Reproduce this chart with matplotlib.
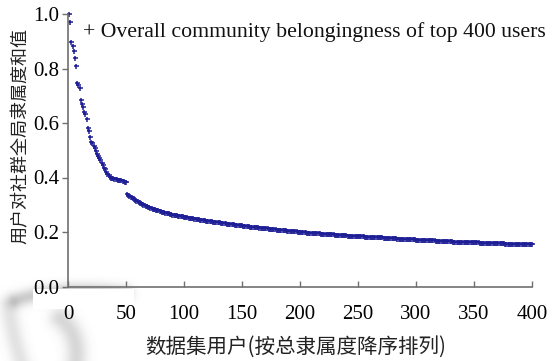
import numpy as np
import matplotlib
matplotlib.use("Agg")
import matplotlib.pyplot as plt

# Overall community belongingness of the top 400 users, sorted descending
ranks = list(range(1, 401))
belong_top50 = [
    1.000, 0.970, 0.897, 0.884, 0.866, 0.840, 0.810, 0.745, 0.738, 0.727,
    0.684, 0.670, 0.657, 0.640, 0.632, 0.614, 0.583, 0.570, 0.548, 0.530,
    0.525, 0.515, 0.508, 0.496, 0.488, 0.480, 0.472, 0.465, 0.455, 0.446,
    0.436, 0.430, 0.422, 0.414, 0.408, 0.403, 0.400, 0.399, 0.397, 0.396,
    0.395, 0.394, 0.392, 0.391, 0.390, 0.389, 0.387, 0.386, 0.384, 0.382,
]
belong_rest = [
    0.340, 0.336, 0.333, 0.330, 0.327, 0.325, 0.322, 0.318, 0.315, 0.312,
    0.310, 0.307, 0.305, 0.302, 0.300, 0.298, 0.296, 0.294, 0.292, 0.290,
    0.289, 0.287, 0.286, 0.284, 0.283, 0.282, 0.280, 0.279, 0.278, 0.277,
    0.275, 0.274, 0.273, 0.271, 0.270, 0.269, 0.268, 0.266, 0.265, 0.264,
    0.263, 0.263, 0.262, 0.261, 0.260, 0.259, 0.258, 0.257, 0.257, 0.256,
    0.255, 0.254, 0.254, 0.253, 0.252, 0.251, 0.251, 0.250, 0.249, 0.248,
    0.248, 0.247, 0.246, 0.245, 0.245, 0.244, 0.244, 0.243, 0.242, 0.242,
    0.241, 0.240, 0.240, 0.239, 0.238, 0.238, 0.237, 0.237, 0.236, 0.235,
    0.235, 0.234, 0.233, 0.233, 0.232, 0.232, 0.231, 0.231, 0.230, 0.229,
    0.229, 0.228, 0.228, 0.227, 0.227, 0.226, 0.226, 0.225, 0.224, 0.224,
    0.223, 0.223, 0.222, 0.222, 0.221, 0.221, 0.220, 0.220, 0.219, 0.219,
    0.218, 0.218, 0.217, 0.217, 0.216, 0.216, 0.215, 0.215, 0.214, 0.214,
    0.213, 0.213, 0.212, 0.212, 0.211, 0.211, 0.210, 0.210, 0.210, 0.209,
    0.209, 0.208, 0.208, 0.207, 0.207, 0.206, 0.206, 0.206, 0.205, 0.205,
    0.204, 0.204, 0.203, 0.203, 0.203, 0.202, 0.202, 0.201, 0.201, 0.201,
    0.200, 0.200, 0.199, 0.199, 0.199, 0.198, 0.198, 0.198, 0.197, 0.197,
    0.197, 0.196, 0.196, 0.196, 0.195, 0.195, 0.195, 0.194, 0.194, 0.194,
    0.193, 0.193, 0.193, 0.192, 0.192, 0.192, 0.191, 0.191, 0.191, 0.190,
    0.190, 0.190, 0.190, 0.189, 0.189, 0.189, 0.188, 0.188, 0.188, 0.188,
    0.187, 0.187, 0.187, 0.186, 0.186, 0.186, 0.186, 0.185, 0.185, 0.185,
    0.185, 0.184, 0.184, 0.184, 0.184, 0.183, 0.183, 0.183, 0.183, 0.182,
    0.182, 0.182, 0.182, 0.181, 0.181, 0.181, 0.181, 0.180, 0.180, 0.180,
    0.180, 0.179, 0.179, 0.179, 0.179, 0.178, 0.178, 0.178, 0.178, 0.177,
    0.177, 0.177, 0.177, 0.176, 0.176, 0.176, 0.176, 0.175, 0.175, 0.175,
    0.175, 0.174, 0.174, 0.174, 0.174, 0.173, 0.173, 0.173, 0.173, 0.172,
    0.172, 0.172, 0.172, 0.171, 0.171, 0.171, 0.171, 0.170, 0.170, 0.170,
    0.170, 0.170, 0.169, 0.169, 0.169, 0.169, 0.168, 0.168, 0.168, 0.168,
    0.168, 0.167, 0.167, 0.167, 0.167, 0.167, 0.166, 0.166, 0.166, 0.166,
    0.166, 0.165, 0.165, 0.165, 0.165, 0.165, 0.164, 0.164, 0.164, 0.164,
    0.164, 0.164, 0.164, 0.163, 0.163, 0.163, 0.163, 0.163, 0.162, 0.162,
    0.162, 0.162, 0.162, 0.162, 0.161, 0.161, 0.161, 0.161, 0.161, 0.160,
    0.160, 0.160, 0.160, 0.160, 0.159, 0.159, 0.159, 0.159, 0.159, 0.159,
    0.158, 0.158, 0.158, 0.158, 0.158, 0.158, 0.157, 0.157, 0.157, 0.157,
    0.157, 0.157, 0.157, 0.157, 0.156, 0.156, 0.156, 0.156, 0.156, 0.156,
    0.156, 0.156, 0.156, 0.156, 0.155, 0.155, 0.155, 0.155, 0.155, 0.155,
]
belongingness = belong_top50 + belong_rest

x_ticks = [0, 50, 100, 150, 200, 250, 300, 350, 400]
y_ticks = [0.0, 0.2, 0.4, 0.6, 0.8, 1.0]
y_tick_labels = ["0.0", "0.2", "0.4", "0.6", "0.8", "1.0"]

series_label = "Overall community belongingness of top 400 users"
x_title = "数据集用户(按总隶属度降序排列)"
y_title = "用户对社群全局隶属度和值"

serif = ["Liberation Serif", "DejaVu Serif"]
cjk = ["Noto Sans CJK SC", "DejaVu Sans"]

W, H = 554, 361
fig = plt.figure(figsize=(W / 100, H / 100), dpi=100)
fig.patch.set_facecolor("white")


# soft grey brush-stroke watermark in the lower-left background
def soft_stroke(xx, yy, p0, p1, p2, width, strength):
    t = np.linspace(0, 1, 80)[:, None, None]
    cx = (1 - t) ** 2 * p0[0] + 2 * (1 - t) * t * p1[0] + t ** 2 * p2[0]
    cy = (1 - t) ** 2 * p0[1] + 2 * (1 - t) * t * p1[1] + t ** 2 * p2[1]
    d2 = ((xx[None] - cx) ** 2 + (yy[None] - cy) ** 2).min(axis=0)
    return strength * np.exp(-d2 / (2 * width ** 2))


yy, xx = np.mgrid[0:H, 0:W].astype(float)
shade = np.zeros((H, W))
shade += soft_stroke(xx, yy, (15, 300), (60, 285), (125, 293), 5.5, 0.36)
shade += soft_stroke(xx, yy, (8, 305), (12, 335), (22, 365), 6.5, 0.20)
shade += soft_stroke(xx, yy, (60, 318), (80, 335), (75, 365), 7.5, 0.28)
shade = np.clip(shade, 0, 0.45)
shade[289:309, 33:134] = 0.0
rgba = np.zeros((H, W, 4))
rgba[..., :3] = 0.45
rgba[..., 3] = shade

bg = fig.add_axes([0, 0, 1, 1], zorder=-5)
bg.imshow(rgba, extent=(0, W, H, 0), interpolation="bilinear")
bg.set_xlim(0, W)
bg.set_ylim(H, 0)
bg.axis("off")

ax = fig.add_axes([68 / W, 1 - 286.5 / H, (532 - 68) / W, (286.5 - 14) / H])
ax.patch.set_alpha(0)

ax.plot(ranks, belongingness, linestyle="none", marker="+", markersize=3.6,
        markeredgewidth=1.1, color="#1e1e96", clip_on=False)

ax.set_xlim(0, 400)
ax.set_ylim(0, 1.0)
ax.set_xticks(x_ticks)
ax.set_yticks(y_ticks)
ax.set_yticklabels(y_tick_labels)

for side in ("top", "right"):
    ax.spines[side].set_visible(False)
for side in ("left", "bottom"):
    ax.spines[side].set_color("#707070")
    ax.spines[side].set_linewidth(1.2)

ax.tick_params(axis="x", direction="in", length=4, width=1, color="#707070",
               pad=13, labelsize=15)
ax.tick_params(axis="y", direction="out", length=4, width=1, color="#707070",
               pad=2, labelsize=15)
for lab in ax.get_xticklabels() + ax.get_yticklabels():
    lab.set_fontfamily(serif)

ax.text(15 / 464, 0.935, "+ " + series_label, transform=ax.transAxes,
        fontsize=15.7, family=serif, ha="left", va="center", color="#111111")

fig.text(296 / W, 1 - 347 / H, x_title, fontsize=14.8, family=cjk,
         ha="center", va="center", color="#222222")
fig.text(21 / W, 1 - 136 / H, y_title, fontsize=13, family=cjk,
         rotation=90, ha="center", va="center", color="#222222")

fig.savefig("out.png", dpi=100, facecolor="white")
